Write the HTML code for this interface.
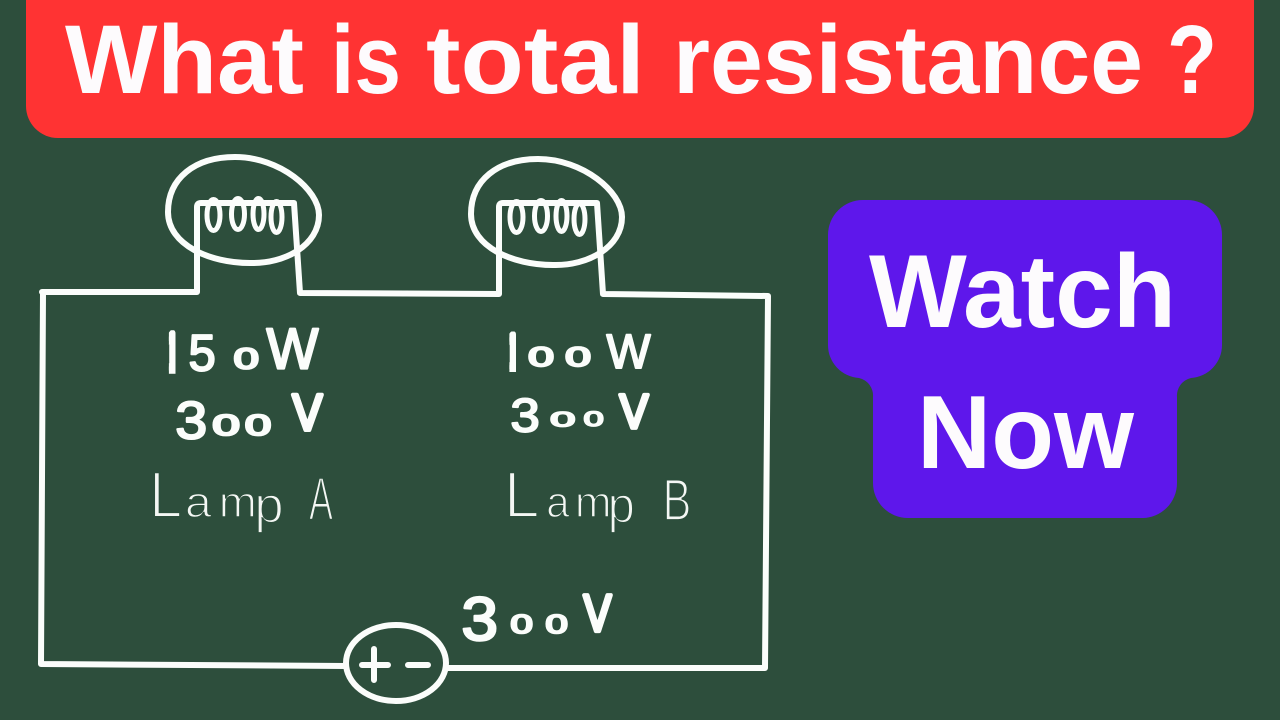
<!DOCTYPE html>
<html lang="en">
<head>
<meta charset="utf-8">
<title>What is total resistance ?</title>
<style>
html,body{margin:0;padding:0;background:#2d4e3c;width:1280px;height:720px;overflow:hidden}
svg{display:block}
.h{font-family:"Liberation Sans",sans-serif;font-weight:700;fill:#fdfbfd}
.g{font-family:"Liberation Sans",sans-serif;font-size:100px;fill:#fbfdfb;stroke:#fbfdfb;stroke-linejoin:round;stroke-linecap:round}
.s4{stroke-width:4px}.s8{stroke-width:8px}.s12{stroke-width:12px}
.e{font-family:"Liberation Sans",sans-serif;font-size:100px;fill:#f4f7f4;stroke:#2d4e3c;stroke-width:3.2px}
.w{fill:none;stroke:#fbfdfb;stroke-width:6;stroke-linejoin:round;stroke-linecap:round}
.c{fill:none;stroke:#fbfdfb;stroke-width:5}
</style>
</head>
<body>
<svg width="1280" height="720" viewBox="0 0 1280 720" xmlns="http://www.w3.org/2000/svg">
<defs>
<clipPath id="one"><rect x="18" y="-80" width="22" height="90"/></clipPath>
<g id="lamp">
<path class="w" d="M168 212C168 178 195 157 235 157C280 157 319 190 319 215C319 245 285 264 250 263C210 263 168 245 168 212Z"/>
<g class="c">
<ellipse cx="213.5" cy="215" rx="6.5" ry="15.5"/><ellipse cx="238" cy="214" rx="6.5" ry="15.5"/><ellipse cx="258.5" cy="214" rx="5.5" ry="15.5"/><ellipse cx="276.5" cy="217" rx="5.5" ry="15.5"/>
</g>
</g>
</defs>
<rect width="1280" height="720" fill="#2d4e3c"/>

<rect x="26" y="-40" width="1228" height="178" rx="32" fill="#ff3333"/>
<g class="h" font-size="97">
<text x="65" y="93" textLength="239" lengthAdjust="spacingAndGlyphs">What</text>
<text x="331" y="93" textLength="70" lengthAdjust="spacingAndGlyphs">is</text>
<text x="426" y="93" textLength="219" lengthAdjust="spacingAndGlyphs">total</text>
<text x="673" y="93" textLength="470" lengthAdjust="spacingAndGlyphs">resistance</text>
<text x="1167" y="93" textLength="50" lengthAdjust="spacingAndGlyphs">?</text>
</g>

<path d="M863 200H1187A35 35 0 0 1 1222 235V345A33 33 0 0 1 1191 378A18 18 0 0 0 1177 397V483A35 35 0 0 1 1142 518H908A35 35 0 0 1 873 483V397A18 18 0 0 0 859 378A33 33 0 0 1 828 345V235A35 35 0 0 1 863 200Z" fill="#5e17eb"/>
<g class="h" font-size="104">
<text x="869" y="327" textLength="307" lengthAdjust="spacingAndGlyphs">Watch</text>
<text x="917" y="468" textLength="217" lengthAdjust="spacingAndGlyphs">Now</text>
</g>

<path class="w" d="M42 292H197V207Q197 203 201 203H294L300 293L499 294V207Q499 203 503 203H597L603 294L768 296L765 668H446M346 666L41 664L43 292"/>
<use href="#lamp"/>
<use href="#lamp" transform="translate(303 2)"/>

<ellipse class="w" cx="396" cy="663" rx="50" ry="38"/>
<path class="w" d="M362 665H388M374 649V680M408 665H428"/>

<text class="g s12" clip-path="url(#one)" transform="matrix(.3 0 0 .54 163.5 370.5)">1</text>
<text class="g s4" transform="matrix(.49 0 0 .51 188.5 370.5)">5</text>
<text class="g s8" transform="matrix(.45 0 0 .29 233.7 368.5)">0</text>
<text class="g s4" transform="matrix(.55 0 0 .574 266.5 368.5)">W</text>

<text class="g s4" transform="matrix(.575 0 0 .53 175.2 438.5)">3</text>
<text class="g s8" transform="matrix(.49 0 0 .29 212.5 435)">0</text>
<text class="g s8" transform="matrix(.47 0 0 .29 245 435)">0</text>
<text class="g s8" transform="matrix(.446 0 0 .51 292.5 430)">V</text>

<text class="e" transform="matrix(.59 0 0 .65 149.3 517)">L</text>
<text class="e" transform="matrix(.48 0 0 .44 185 517)">a</text>
<text class="e" transform="matrix(.457 0 0 .44 218.8 517)">m</text>
<text class="e" transform="matrix(.53 0 0 .51 254.3 522.5)">p</text>
<text class="e" transform="matrix(.36 0 0 .61 309 520)">A</text>

<text class="g s12" clip-path="url(#one)" transform="matrix(.3 0 0 .5 504 369)">1</text>
<text class="g s8" transform="matrix(.46 0 0 .27 528.2 366)">0</text>
<text class="g s8" transform="matrix(.46 0 0 .27 565.2 366)">0</text>
<text class="g s4" transform="matrix(.467 0 0 .48 606.5 368)">W</text>

<text class="g s4" transform="matrix(.53 0 0 .47 510.4 431.5)">3</text>
<text class="g s8" transform="matrix(.45 0 0 .21 550.2 426.5)">0</text>
<text class="g s8" transform="matrix(.36 0 0 .21 583.6 426)">0</text>
<text class="g s8" transform="matrix(.43 0 0 .48 619.6 428)">V</text>

<text class="e" transform="matrix(.64 0 0 .65 503.9 517)">L</text>
<text class="e" transform="matrix(.42 0 0 .44 546.3 517)">a</text>
<text class="e" transform="matrix(.44 0 0 .44 574.9 517)">m</text>
<text class="e" transform="matrix(.49 0 0 .51 607.6 522.5)">p</text>
<text class="e" transform="matrix(.43 0 0 .58 662.6 520)">B</text>

<text class="g s4" transform="matrix(.66 0 0 .61 461.4 640)">3</text>
<text class="g s8" transform="matrix(.4 0 0 .26 510.5 633)">0</text>
<text class="g s8" transform="matrix(.4 0 0 .26 545.5 633)">0</text>
<text class="g s8" transform="matrix(.415 0 0 .52 583.6 631)">V</text>
</svg>
</body>
</html>
